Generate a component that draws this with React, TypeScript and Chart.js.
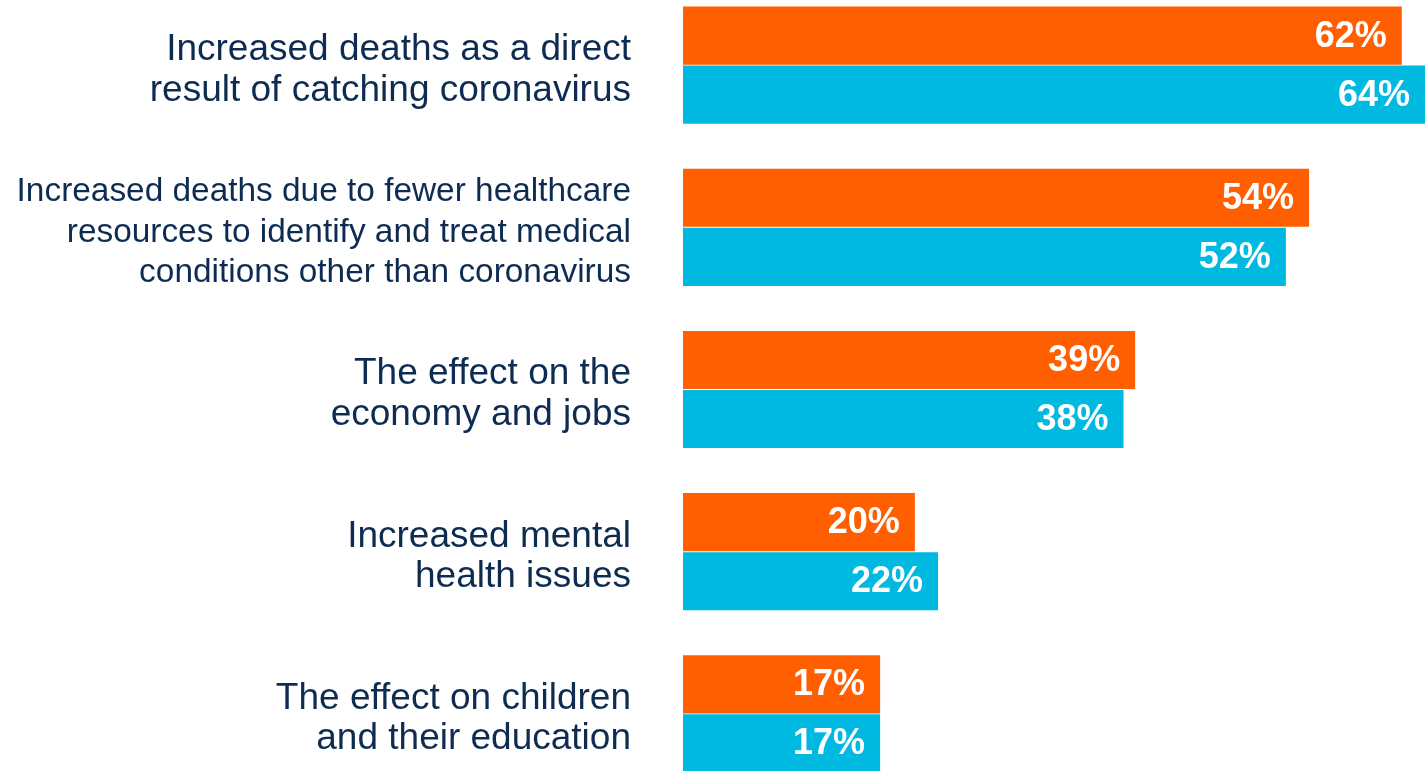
import React, { useEffect, useRef } from "react";
import { Chart, registerables } from "chart.js";

Chart.register(...registerables);

const categories: string[][] = [
  ["Increased deaths as a direct", "result of catching coronavirus"],
  ["Increased deaths due to fewer healthcare", "resources to identify and treat medical", "conditions other than coronavirus"],
  ["The effect on the", "economy and jobs"],
  ["Increased mental", "health issues"],
  ["The effect on children", "and their education"],
];

const seriesOrange: number[] = [62, 54, 39, 20, 17];
const seriesCyan: number[] = [64, 52, 38, 22, 17];

const ORANGE = "#FF5F00";
const CYAN = "#00B9E0";
const NAVY = "#0E2C52";
const FONT = "'Liberation Sans', Arial, sans-serif";

const valueLabelPlugin = {
  id: "valueLabels",
  afterDatasetsDraw(chart: any) {
    const ctx = chart.ctx;
    ctx.save();
    ctx.fillStyle = "#FFFFFF";
    ctx.font = `bold 36px ${FONT}`;
    ctx.textAlign = "right";
    ctx.textBaseline = "middle";
    chart.data.datasets.forEach((ds: any, di: number) => {
      const meta = chart.getDatasetMeta(di);
      meta.data.forEach((el: any, i: number) => {
        ctx.fillText(`${ds.data[i]}%`, el.x - 15, el.y + 1);
      });
    });
    ctx.restore();
  },
};

export default function App() {
  const ref = useRef<HTMLCanvasElement | null>(null);
  useEffect(() => {
    if (!ref.current) return;
    const chart = new Chart(ref.current, {
      type: "bar",
      data: {
        labels: categories,
        datasets: [
          {
            label: "Orange",
            data: seriesOrange,
            backgroundColor: ORANGE,
            borderWidth: 0,
            categoryPercentage: 0.728,
            barPercentage: 0.985,
          },
          {
            label: "Cyan",
            data: seriesCyan,
            backgroundColor: CYAN,
            borderWidth: 0,
            categoryPercentage: 0.728,
            barPercentage: 0.985,
          },
        ],
      },
      options: {
        indexAxis: "y",
        animation: false,
        responsive: false,
        maintainAspectRatio: false,
        layout: { padding: 0 },
        plugins: {
          legend: { display: false },
          tooltip: { enabled: false },
          title: { display: false },
        },
        scales: {
          x: {
            display: false,
            min: 0,
            max: 64,
          },
          y: {
            grid: { display: false, drawTicks: false },
            border: { display: false },
            ticks: {
              color: NAVY,
              padding: 52,
              labelOffset: 5,
              autoSkip: false,
              font: (c: any) =>
                c.index === 1
                  ? { family: FONT, size: 33.4, lineHeight: 1.2 }
                  : { family: FONT, size: 37, lineHeight: 1.1 },
            },
            afterFit: (scale: any) => {
              scale.width = 683;
              scale.paddingTop = 0;
              scale.paddingBottom = 0;
            },
          },
        },
      },
      plugins: [valueLabelPlugin],
    });
    return () => chart.destroy();
  }, []);
  return (
    <div
      style={{
        position: "fixed",
        left: 0,
        top: -16,
        width: 1425,
        height: 811,
        background: "#FFFFFF",
      }}
    >
      <canvas ref={ref} width={1425} height={811} style={{ display: "block" }} />
    </div>
  );
}
